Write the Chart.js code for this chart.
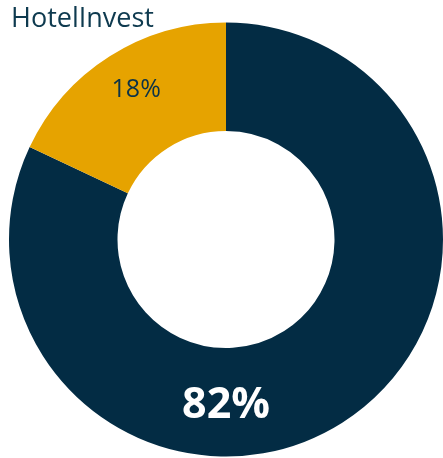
<!DOCTYPE html>
<html>
<head>
    <title>HotelInvest</title>
    <script src="https://cdn.jsdelivr.net/npm/chart.js"></script>
    <style>
        html, body { margin: 0; padding: 0; background: #ffffff; }
        #chart-container { position: relative; width: 443px; height: 458px; }
    </style>
</head>
<body>
    <div id="chart-container">
        <canvas id="myChart"></canvas>
    </div>

    <script>
        // Datos
        const titleText = 'HotelInvest';
        const categories = ['HotelInvest', 'Otros'];
        const shares = [82, 18];
        const shareLabels = ['82%', '18%'];

        const colors = ['#032c44', '#e6a300'];

        // Etiquetas de porcentaje dibujadas sobre cada sector
        const labelStyle = [
            { angle: Math.PI, radius: 1.53, font: 'bold 43px "Open Sans"', color: '#ffffff' },
            { angle: -0.54, radius: 1.61, font: '25px "Open Sans"', color: '#0c3347' }
        ];

        const sliceLabels = {
            id: 'sliceLabels',
            afterDatasetsDraw(chart) {
                const ctx = chart.ctx;
                const arcs = chart.getDatasetMeta(0).data;
                ctx.save();
                ctx.textAlign = 'center';
                ctx.textBaseline = 'middle';
                arcs.forEach((arc, i) => {
                    const s = labelStyle[i];
                    const r = arc.innerRadius * s.radius;
                    const x = arc.x + r * Math.sin(s.angle);
                    const y = arc.y - r * Math.cos(s.angle);
                    ctx.font = s.font;
                    ctx.fillStyle = s.color;
                    ctx.fillText(shareLabels[i], x, y);
                });
                ctx.restore();
            }
        };

        const cornerTitle = {
            id: 'cornerTitle',
            afterDraw(chart) {
                const ctx = chart.ctx;
                ctx.save();
                ctx.font = '27px "Open Sans"';
                ctx.fillStyle = '#0e3a4f';
                ctx.textAlign = 'left';
                ctx.textBaseline = 'alphabetic';
                ctx.fillText(titleText, 11, 27);
                ctx.restore();
            }
        };

        const ctx = document.getElementById('myChart').getContext('2d');
        new Chart(ctx, {
            type: 'doughnut',
            data: {
                labels: categories,
                datasets: [{
                    data: shares,
                    backgroundColor: colors,
                    borderWidth: 0
                }]
            },
            options: {
                responsive: true,
                maintainAspectRatio: false,
                animation: false,
                cutout: '50%',
                layout: { padding: { left: 9, right: 0, top: 21, bottom: 0 } },
                plugins: {
                    legend: { display: false },
                    tooltip: { enabled: false }
                }
            },
            plugins: [sliceLabels, cornerTitle]
        });
    </script>
</body>
</html>
